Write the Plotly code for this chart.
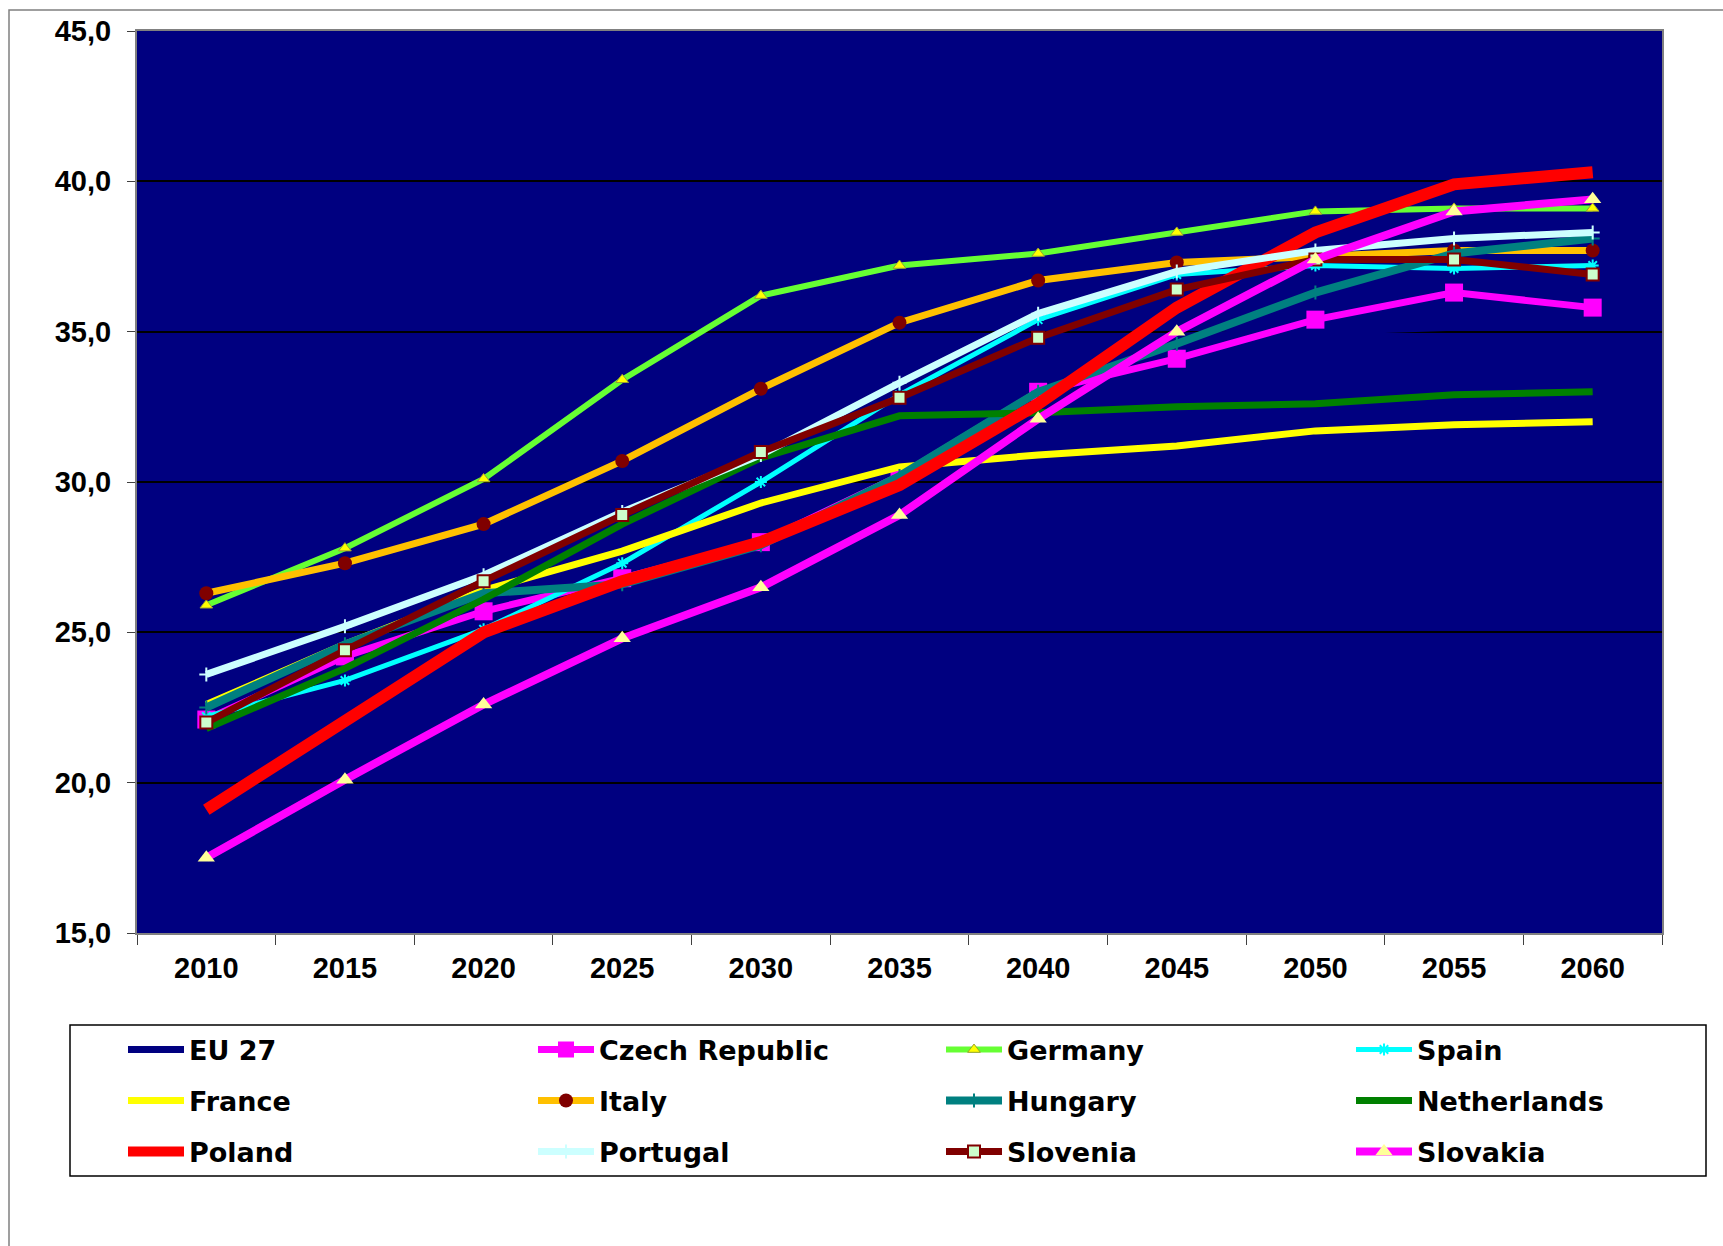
import plotly.graph_objects as go

years = ["2010", "2015", "2020", "2025", "2030", "2035", "2040", "2045", "2050", "2055", "2060"]

eu27 = [22.6, 24.6, 26.4, 27.7, 29.3, 30.6, 33.2, 34.85, 35.0, 35.15, 35.4]
czech = [22.1, 24.2, 25.7, 26.8, 28.0, 30.2, 33.0, 34.1, 35.4, 36.3, 35.8]
germany = [25.9, 27.8, 30.1, 33.4, 36.2, 37.2, 37.6, 38.3, 39.0, 39.1, 39.1]
spain = [22.2, 23.4, 25.1, 27.3, 30.0, 32.9, 35.4, 36.9, 37.2, 37.1, 37.2]
france = [22.6, 24.6, 26.4, 27.7, 29.3, 30.5, 30.9, 31.2, 31.7, 31.9, 32.0]
italy = [26.3, 27.3, 28.6, 30.7, 33.1, 35.3, 36.7, 37.3, 37.5, 37.7, 37.7]
hungary = [22.5, 24.6, 26.3, 26.6, 27.9, 30.2, 33.0, 34.6, 36.3, 37.6, 38.1]
netherlands = [21.8, 23.8, 26.1, 28.6, 30.8, 32.2, 32.3, 32.5, 32.6, 32.9, 33.0]
poland = [19.1, 22.0, 25.0, 26.7, 28.0, 29.9, 32.6, 35.8, 38.3, 39.9, 40.3]
portugal = [23.6, 25.2, 26.9, 29.0, 30.9, 33.3, 35.6, 37.0, 37.7, 38.1, 38.3]
slovenia = [22.0, 24.4, 26.7, 28.9, 31.0, 32.8, 34.8, 36.4, 37.4, 37.4, 36.9]
slovakia = [17.5, 20.1, 22.6, 24.8, 26.5, 28.9, 32.1, 35.0, 37.4, 39.0, 39.4]

TICK_FONT = "Liberation Sans, Arial, sans-serif"
LEG_FONT = "DejaVu Sans, Verdana, sans-serif"

series = [
    ("EU 27", eu27, "#000080", 7, None),
    ("Czech Republic", czech, "#FF00FF", 7, dict(symbol="square", size=18, color="#FF00FF")),
    ("Germany", germany, "#66FF33", 6, dict(symbol="triangle-up", size=11, color="#FFFF00", line=dict(color="#99A030", width=1))),
    ("Spain", spain, "#00FFFF", 5, dict(symbol="asterisk-open", size=10, color="#00FFFF", line=dict(color="#00FFFF", width=2))),
    ("France", france, "#FFFF00", 7, None),
    ("Italy", italy, "#FFC000", 7, dict(symbol="circle", size=14, color="#800000")),
    ("Hungary", hungary, "#008080", 8, dict(symbol="cross-thin-open", size=10, color="#008080", line=dict(color="#008080", width=2))),
    ("Netherlands", netherlands, "#008000", 7, None),
    ("Poland", poland, "#FF0000", 12, None),
    ("Portugal", portugal, "#CCFFFF", 7, dict(symbol="cross-thin-open", size=10, color="#CCFFFF", line=dict(color="#CCFFFF", width=2))),
    ("Slovenia", slovenia, "#800000", 7, dict(symbol="square", size=12, color="#CCFFCC", line=dict(color="#800000", width=2))),
    ("Slovakia", slovakia, "#FF00FF", 8, dict(symbol="triangle-up", size=15, color="#FFFF99")),
]

W, H = 1723, 1246
ML, MR, MT, MB = 137, 61, 31, 313
pw = W - ML - MR
ph = H - MT - MB


def px(x):
    return (x - ML) / pw


def py(y):
    return (H - MB - y) / ph


# legend grid (text left edges and row centres, in page pixels)
col_text_x = [189, 599, 1007, 1417]
row_y = [1050, 1101, 1152]
ITEMW = 56

fig = go.Figure()
legends = {}
for i, (name, vals, col, w, mk) in enumerate(series):
    lname = "legend" if i == 0 else f"legend{i + 1}"
    fig.add_trace(go.Scatter(
        x=years, y=vals, name=name,
        mode="lines+markers" if mk else "lines",
        line=dict(color=col, width=w),
        marker=mk if mk else None,
        legend=lname,
    ))
    r, c = divmod(i, 4)
    legends[lname] = dict(
        x=px(col_text_x[c] - ITEMW - 10), y=py(row_y[r]),
        xanchor="left", yanchor="middle",
        bgcolor="rgba(0,0,0,0)", borderwidth=0,
        itemwidth=ITEMW,
        font=dict(family=LEG_FONT, size=27, color="black", weight="bold"),
        itemclick=False, itemdoubleclick=False,
    )

fig.update_layout(
    width=W, height=H,
    margin=dict(l=ML, r=MR, t=MT, b=MB),
    paper_bgcolor="white",
    plot_bgcolor="#000080",
    separators=",.",
    font=dict(family=TICK_FONT, color="black"),
    showlegend=True,
    xaxis=dict(
        type="category", range=[-0.5, 10.5], tickson="boundaries",
        ticks="outside", ticklen=10, tickcolor="#404040", tickwidth=1,
        showline=True, linecolor="#808080", linewidth=2, mirror=True,
        showgrid=False, zeroline=False,
        tickfont=dict(family=TICK_FONT, size=29, color="black", weight="bold"),
        ticklabelstandoff=8,
    ),
    yaxis=dict(
        range=[15, 45], dtick=5, tick0=15, tickformat=".1f",
        ticks="outside", ticklen=8, tickcolor="#404040", tickwidth=1,
        showline=True, linecolor="#808080", linewidth=2, mirror=True,
        showgrid=True, gridcolor="black", gridwidth=2, zeroline=False,
        tickfont=dict(family=TICK_FONT, size=29, color="black", weight="bold"),
        ticklabelstandoff=10,
    ),
    shapes=[
        dict(type="rect", xref="paper", yref="paper",
             x0=px(9), x1=px(1740), y0=py(10), y1=py(1270),
             line=dict(color="#808080", width=1.5), fillcolor="rgba(0,0,0,0)"),
        dict(type="rect", xref="paper", yref="paper",
             x0=px(70), x1=px(1706), y0=py(1025), y1=py(1176),
             line=dict(color="black", width=1.5), fillcolor="white"),
    ],
    **legends,
)

fig.write_html(
    "out.html",
    config={"displayModeBar": False},
    post_script="document.body.style.margin='0';",
)
